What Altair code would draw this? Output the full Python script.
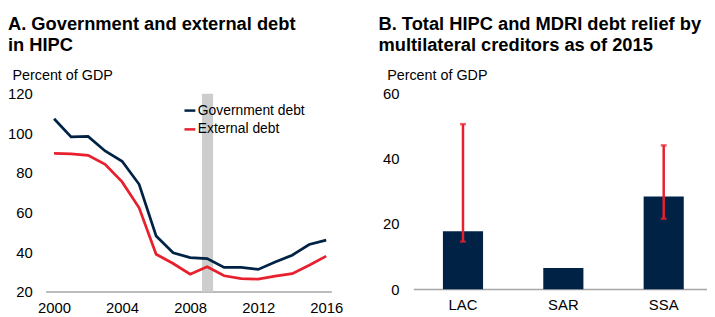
import altair as alt
import pandas as pd

# ---------------- data ----------------
years = list(range(2000, 2017))
gov_debt = [107.4, 98.2, 98.5, 91.1, 85.9, 74.3, 48.2, 39.7, 37.3, 36.8,
            32.3, 32.3, 31.3, 35.1, 38.5, 43.9, 46.1]
ext_debt = [89.9, 89.7, 88.9, 84.4, 75.5, 62.4, 39.0, 34.3, 28.9, 32.6,
            28.1, 26.7, 26.4, 27.9, 29.2, 33.4, 38.0]
series_names = ["Government debt", "External debt"]
crisis_start = [2008.7]
crisis_end = [2009.35]

regions = ["LAC", "SAR", "SSA"]
relief = [17.8, 6.5, 28.4]
err_regions = ["LAC", "SSA"]
err_low = [14.6, 21.6]
err_high = [50.6, 44.1]

title_a = ["A. Government and external debt", "in HIPC"]
title_b = ["B. Total HIPC and MDRI debt relief by", "multilateral creditors as of 2015"]
y_label = "Percent of GDP"
left_ticks = [20, 40, 60, 80, 100, 120]
year_ticks = [2000, 2004, 2008, 2012, 2016]
right_ticks = [0, 20, 40, 60]

# ---------------- style ----------------
NAVY = "#002345"
RED = "#e8202e"
BAND_GRAY = "#cdcdcd"
AXIS_GRAY = "#a6a6a6"
FONT = "Liberation Sans, Arial, Helvetica, sans-serif"

lines_df = pd.DataFrame({
    "year": years * 2,
    "value": gov_debt + ext_debt,
    "series": [series_names[0]] * len(years) + [series_names[1]] * len(years),
})
band_df = pd.DataFrame({"start": crisis_start, "end": crisis_end,
                        "lo": [min(left_ticks)], "hi": [max(left_ticks)]})
bars_df = pd.DataFrame({"region": regions, "relief": relief})
err_df = pd.DataFrame({"region": err_regions, "low": err_low, "high": err_high})
titles_df = pd.DataFrame({"t": ["\n".join(title_a), "\n".join(title_b)],
                          "panel": ["A", "B"]})

# ---------------- left panel ----------------
lx_scale = alt.Scale(domain=[1999.5, 2016.3], range=[38, 327], nice=False, zero=False)
ly_scale = alt.Scale(domain=[20, 120], range=[285.3, 85], nice=False, zero=False)
lx_axis = alt.Axis(orient="bottom", values=year_ticks, format="d", title=None,
                   labelFontSize=15, labelPadding=9, labelFont=FONT, labelColor="black",
                   domainColor=AXIS_GRAY, domainWidth=1.5, ticks=False, tickSize=0,
                   grid=False)
ly_axis = alt.Axis(orient="left", values=left_ticks, offset=-24.5, domain=False,
                   ticks=False, tickSize=0, labelPadding=0, grid=False,
                   labelFontSize=15, labelFont=FONT, labelColor="black",
                   title=y_label, titleAngle=0, titleAlign="left", titleBaseline="middle",
                   titleX=-20.5, titleY=67, titleFontWeight="normal", titleFontSize=14.5,
                   titleFont=FONT, titleColor="black")

band = alt.Chart(band_df).mark_rect(color=BAND_GRAY).encode(
    x=alt.X("start:Q", scale=lx_scale, axis=lx_axis, title=None),
    x2="end:Q",
    y=alt.Y("lo:Q", scale=ly_scale, axis=ly_axis, title=y_label),
    y2="hi:Q",
)
lines = alt.Chart(lines_df).mark_line(strokeWidth=2.75).encode(
    x=alt.X("year:Q", scale=lx_scale, axis=lx_axis, title=None),
    y=alt.Y("value:Q", scale=ly_scale, axis=ly_axis, title=y_label),
    color=alt.Color("series:N",
                    scale=alt.Scale(domain=series_names, range=[NAVY, RED]),
                    legend=alt.Legend(orient="none", legendX=177, legendY=95, title=None,
                                      symbolType="stroke", symbolSize=121,
                                      symbolStrokeWidth=2.5, labelFontSize=14,
                                      labelFont=FONT, labelColor="black",
                                      labelOffset=1, rowPadding=5, padding=0)),
    detail="series:N",
)
left = alt.layer(band, lines)

# ---------------- right panel ----------------
rx_scale = alt.Scale(domain=regions, range=[410, 707], paddingInner=0.6,
                     paddingOuter=0.263, align=0.56)
ry_scale = alt.Scale(domain=[0, 60], range=[282.7, 84.7], nice=False, zero=False)
rx_axis = alt.Axis(orient="bottom", offset=-2.5, title=None, labelAngle=0,
                   labelFontSize=15, labelPadding=9, labelFont=FONT, labelColor="black",
                   domainColor=AXIS_GRAY, domainWidth=1.5, ticks=False, tickSize=0,
                   grid=False)
ry_axis = alt.Axis(orient="left", values=right_ticks, offset=-395.5, domain=False,
                   ticks=False, tickSize=0, labelPadding=0, grid=False,
                   labelFontSize=15, labelFont=FONT, labelColor="black",
                   title=y_label, titleAngle=0, titleAlign="left", titleBaseline="middle",
                   titleX=-12.5, titleY=67, titleFontWeight="normal", titleFontSize=14.5,
                   titleFont=FONT, titleColor="black")

bars = alt.Chart(bars_df).mark_bar(color=NAVY).encode(
    x=alt.X("region:N", scale=rx_scale, axis=rx_axis, sort=regions, title=None),
    y=alt.Y("relief:Q", scale=ry_scale, axis=ry_axis, title=y_label),
)
err_rule = alt.Chart(err_df).mark_rule(color=RED, strokeWidth=2.5).encode(
    x=alt.X("region:N", scale=rx_scale, axis=rx_axis, sort=regions, title=None),
    y=alt.Y("low:Q", scale=ry_scale, axis=ry_axis, title=y_label),
    y2="high:Q",
)
cap_lo = alt.Chart(err_df).mark_tick(color=RED, thickness=2.5, size=6,
                                     orient="horizontal").encode(
    x=alt.X("region:N", scale=rx_scale, axis=rx_axis, sort=regions, title=None),
    y=alt.Y("low:Q", scale=ry_scale, axis=ry_axis, title=y_label),
)
cap_hi = alt.Chart(err_df).mark_tick(color=RED, thickness=2.5, size=6,
                                     orient="horizontal").encode(
    x=alt.X("region:N", scale=rx_scale, axis=rx_axis, sort=regions, title=None),
    y=alt.Y("high:Q", scale=ry_scale, axis=ry_axis, title=y_label),
)
right = alt.layer(bars, err_rule, cap_lo, cap_hi)

# ---------------- panel titles ----------------
title_style = dict(align="left", baseline="alphabetic", fontSize=18.5,
                   fontWeight="bold", lineHeight=21, font=FONT, color="black",
                   lineBreak="\n")
t_a = alt.Chart(titles_df).transform_filter(alt.datum.panel == "A").mark_text(
    **title_style).encode(text="t:N", x=alt.value(0), y=alt.value(20.3))
t_b = alt.Chart(titles_df).transform_filter(alt.datum.panel == "B").mark_text(
    **title_style).encode(text="t:N", x=alt.value(374.7), y=alt.value(20.3))

chart = alt.layer(left, right, t_a, t_b).resolve_scale(
    x="independent", y="independent"
).properties(
    width=707, height=285,
    autosize=alt.AutoSizeParams(type="none"),
    padding={"left": 0, "top": 0, "right": 0, "bottom": 24},
).configure_view(stroke=None)

chart.save("out.html", embed_options={"renderer": "svg", "actions": False})
